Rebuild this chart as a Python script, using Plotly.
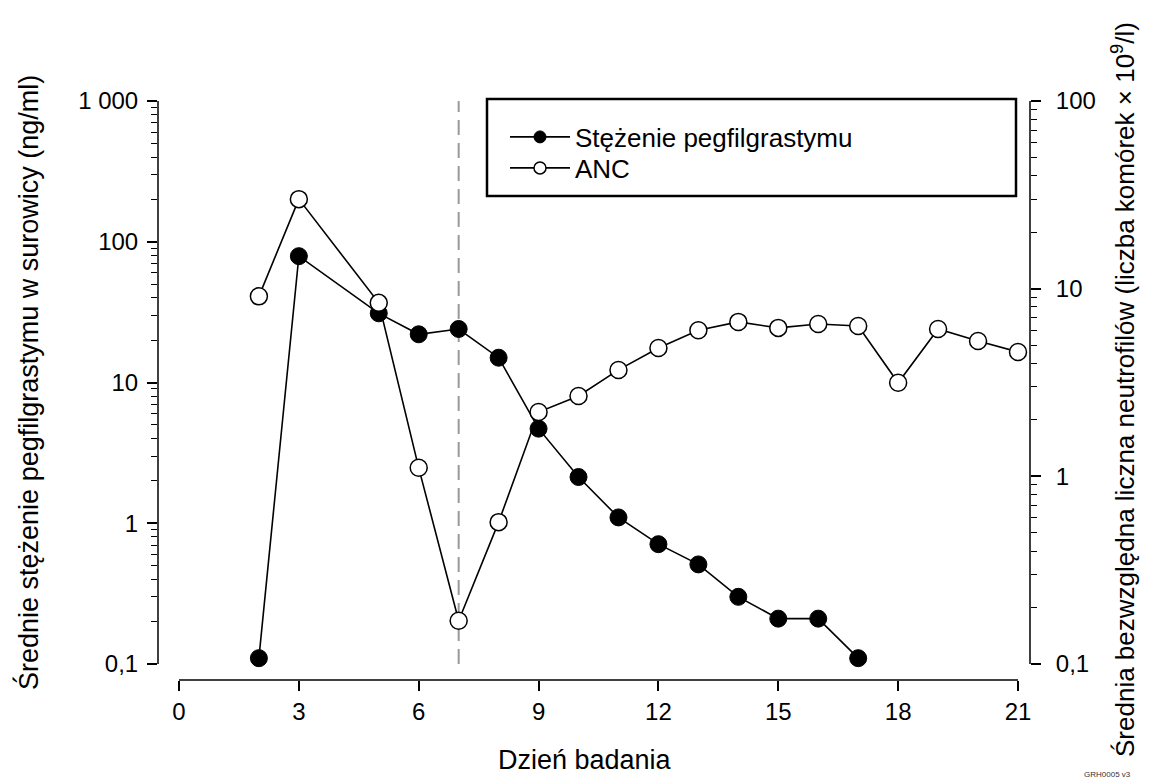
import plotly.graph_objects as go

# ---- data ----
days_conc = [2, 3, 5, 6, 7, 8, 9, 10, 11, 12, 13, 14, 15, 16, 17]
conc_ngml = [0.11, 79, 31, 22, 24, 15, 4.7, 2.13, 1.1, 0.71, 0.51, 0.30, 0.21, 0.21, 0.11]

days_anc = [2, 3, 5, 6, 7, 8, 9, 10, 11, 12, 13, 14, 15, 16, 17, 18, 19, 20, 21]
anc_vals = [9.1, 30, 8.4, 1.11, 0.17, 0.57, 2.2, 2.68, 3.69, 4.83, 6.0, 6.65, 6.18, 6.48, 6.33,
            3.15, 6.1, 5.26, 4.6]

series_names = ["Stężenie pegfilgrastymu", "ANC"]

x_ticks = [0, 3, 6, 9, 12, 15, 18, 21]
left_ticks = [0.1, 1, 10, 100, 1000]
left_ticktext = ["0,1", "1", "10", "100", "1 000"]
right_ticks = [0.1, 1, 10, 100]
right_ticktext = ["0,1", "1", "10", "100"]
dose_day = 7

FONT = "Liberation Sans, Arial, sans-serif"
W, H = 1150, 783
L, R, T, B = 158, 120, 101, 103
PW, PH = W - L - R, H - T - B


def px_x(px):
    return (px - L) / PW


def px_y(py):
    return (H - B - py) / PH


minor_left = [m * 10 ** e for e in range(-1, 3) for m in range(2, 10)]
minor_right = [m * 10 ** e for e in range(-1, 2) for m in range(2, 10)]

LINE = dict(color="black", width=1.6)
FILLED = dict(symbol="circle", color="black", line=dict(color="black", width=1))
OPEN = dict(symbol="circle", color="white", line=dict(color="black", width=1.5))

fig = go.Figure()
fig.add_trace(go.Scatter(
    x=days_conc, y=conc_ngml, name=series_names[0], mode="lines+markers",
    line=LINE, marker=dict(size=17, **FILLED), yaxis="y", showlegend=False))
fig.add_trace(go.Scatter(
    x=days_anc, y=anc_vals, name=series_names[1], mode="lines+markers",
    line=LINE, marker=dict(size=17, **OPEN), yaxis="y2", showlegend=False))
# legend keys (smaller symbols, as in the reference legend)
fig.add_trace(go.Scatter(
    x=[None], y=[None], name=series_names[0], mode="lines+markers",
    line=LINE, marker=dict(size=12, **FILLED), legend="legend"))
fig.add_trace(go.Scatter(
    x=[None], y=[None], name=series_names[1], mode="lines+markers",
    line=LINE, marker=dict(size=12, **OPEN), legend="legend2"))

tick_common = dict(ticks="outside", ticklen=10, tickwidth=1.5, tickcolor="black",
                   showgrid=False, zeroline=False, showline=False,
                   tickfont=dict(family=FONT, size=24, color="black"))

legend_common = dict(xanchor="left", yanchor="middle", bgcolor="rgba(0,0,0,0)",
                     borderwidth=0, itemwidth=60,
                     font=dict(family=FONT, size=26, color="black"))

fig.update_layout(
    width=W, height=H,
    margin=dict(l=L, r=R, t=T, b=B),
    plot_bgcolor="white", paper_bgcolor="white",
    font=dict(family=FONT, size=24, color="black"),
    xaxis=dict(range=[-0.5256, 21.3004], tickmode="array", tickvals=x_ticks, **tick_common),
    yaxis=dict(type="log", range=[-1.1137, 3], tickmode="array", tickvals=left_ticks,
               ticktext=left_ticktext, ticklabelstandoff=4,
               minor=dict(ticks="outside", ticklen=6, tickwidth=1.2, tickcolor="black",
                          tickmode="array", tickvals=minor_left, showgrid=False),
               **tick_common),
    yaxis2=dict(type="log", range=[-1.0853, 2], overlaying="y", side="right",
                tickmode="array", tickvals=right_ticks, ticktext=right_ticktext,
                ticklabelstandoff=10,
                minor=dict(ticks="outside", ticklen=6, tickwidth=1.2, tickcolor="black",
                           tickmode="array", tickvals=minor_right, showgrid=False),
                **tick_common),
    showlegend=True,
    legend=dict(x=px_x(505), y=px_y(137), **legend_common),
    legend2=dict(x=px_x(505), y=px_y(168), **legend_common),
    shapes=[
        # axis lines (R style, spanning the tick range only)
        dict(type="line", xref="x", yref="paper", x0=x_ticks[0], x1=x_ticks[-1], y0=0, y1=0,
             line=dict(color="black", width=1.5)),
        dict(type="line", xref="paper", yref="y", x0=0, x1=0, y0=left_ticks[0], y1=left_ticks[-1],
             line=dict(color="black", width=1.5)),
        dict(type="line", xref="paper", yref="y2", x0=1, x1=1, y0=right_ticks[0], y1=right_ticks[-1],
             line=dict(color="black", width=1.5)),
        # dosing day reference line
        dict(type="line", xref="x", yref="y", x0=dose_day, x1=dose_day,
             y0=left_ticks[0], y1=left_ticks[-1],
             line=dict(color="#999999", width=2, dash="15px,8px"), layer="below"),
        # legend frame
        dict(type="rect", xref="paper", yref="paper", x0=px_x(487), x1=px_x(1016),
             y0=px_y(196), y1=px_y(99), line=dict(color="black", width=2.5),
             fillcolor="rgba(0,0,0,0)"),
    ],
    annotations=[
        dict(text="Dzień badania", xref="paper", yref="paper", x=px_x(585), y=px_y(760),
             xanchor="center", yanchor="middle", showarrow=False,
             font=dict(family=FONT, size=27, color="black")),
        dict(text="Średnie stężenie pegfilgrastymu w surowicy (ng/ml)", xref="paper",
             yref="paper", x=px_x(28), y=px_y(383), xanchor="center", yanchor="middle",
             textangle=-90, showarrow=False, font=dict(family=FONT, size=27, color="black")),
        dict(text="Średnia bezwzględna liczna neutrofilów (liczba komórek × 10<sup>9</sup>/l)",
             xref="paper", yref="paper", x=px_x(1123), y=px_y(390), xanchor="center",
             yanchor="middle", textangle=-90, showarrow=False,
             font=dict(family=FONT, size=26, color="black")),
        dict(text="GRH0005 v3", xref="paper", yref="paper", x=px_x(1107), y=px_y(774),
             xanchor="center", yanchor="middle", showarrow=False,
             font=dict(family=FONT, size=8, color="#333333")),
    ],
)

fig.write_html("out.html", config={"displayModeBar": False},
               post_script="document.body.style.margin='0px';")
